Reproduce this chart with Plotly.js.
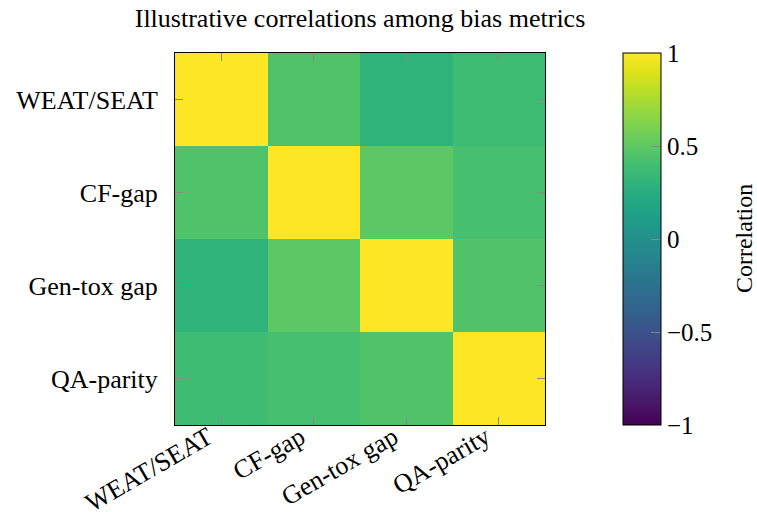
<!DOCTYPE html>
<html>
<head>
<meta charset="utf-8">
<script src="https://cdn.plot.ly/plotly-3.0.1.min.js"></script>
<style>html,body{margin:0;padding:0;background:#fff;}#chart{width:757px;height:512px;}</style>
</head>
<body>
<div id="chart"></div>
<script>
var metrics = ["WEAT/SEAT", "CF-gap", "Gen-tox gap", "QA-parity"];
var rowWEAT = [1.00, 0.45, 0.30, 0.38];
var rowCF   = [0.45, 1.00, 0.50, 0.41];
var rowGen  = [0.30, 0.50, 1.00, 0.45];
var rowQA   = [0.38, 0.41, 0.45, 1.00];
var colorTicks = [-1, -0.5, 0, 0.5, 1];
var colorTickText = ["\u22121", "\u22120.5", "0", "0.5", "1"];
var colorTitle = "Correlation";

var font = "Liberation Serif, DejaVu Serif, serif";
var trace = {
  type: "heatmap",
  x: metrics,
  y: metrics,
  z: [rowWEAT, rowCF, rowGen, rowQA],
  zmin: -1, zmax: 1,
  colorscale: "Viridis",
  hoverinfo: "skip",
  colorbar: {
    x: 1.2108, xanchor: "left", xref: "paper",
    y: 0.5, yanchor: "middle", len: 1, lenmode: "fraction",
    thickness: 38, thicknessmode: "pixels",
    outlinewidth: 1, outlinecolor: "#000",
    tickvals: colorTicks, ticktext: colorTickText,
    ticks: "inside", ticklen: 10, tickcolor: "#888", tickwidth: 1,
    tickfont: {family: font, size: 25, color: "#000"},
    ticklabelstandoff: 7,
    xpad: 0, ypad: 0
  }
};

var annotations = metrics.map(function (m) {
  return {
    text: m, xref: "x", yref: "paper", x: m, y: 0,
    xanchor: "right", yanchor: "top", textangle: -30, showarrow: false,
    xshift: -2, yshift: 5, borderpad: 0,
    font: {family: font, size: 26, color: "#000"}
  };
});
annotations.push({
  text: colorTitle, xref: "paper", yref: "paper", x: 1.538, y: 0.5,
  xanchor: "center", yanchor: "middle", textangle: -90, showarrow: false,
  font: {family: font, size: 24, color: "#000"}
});

var layout = {
  width: 757, height: 512,
  margin: {l: 175, r: 212, t: 53, b: 87},
  paper_bgcolor: "#fff", plot_bgcolor: "#fff",
  title: {text: "Illustrative correlations among bias metrics", x: 0.5, xref: "paper", xanchor: "center",
          y: 0.965, yanchor: "middle",
          font: {family: font, size: 26, color: "#000"}},
  xaxis: {
    type: "category", autorange: false, range: [-0.5, metrics.length - 0.5],
    ticks: "inside", ticklen: 8, tickcolor: "#888",
    showline: true, linecolor: "#000", linewidth: 1, mirror: "allticks",
    showticklabels: false, showgrid: false, zeroline: false
  },
  yaxis: {
    type: "category", autorange: "reversed", ticks: "inside", ticklen: 8, tickcolor: "#888",
    showline: true, linecolor: "#000", linewidth: 1, mirror: "allticks",
    tickfont: {family: font, size: 26, color: "#000"}, showgrid: false, zeroline: false,
    ticklabelstandoff: 11
  },
  annotations: annotations,
  showlegend: false
};
Plotly.newPlot("chart", [trace], layout, {displayModeBar: false, staticPlot: true});
</script>
</body>
</html>
